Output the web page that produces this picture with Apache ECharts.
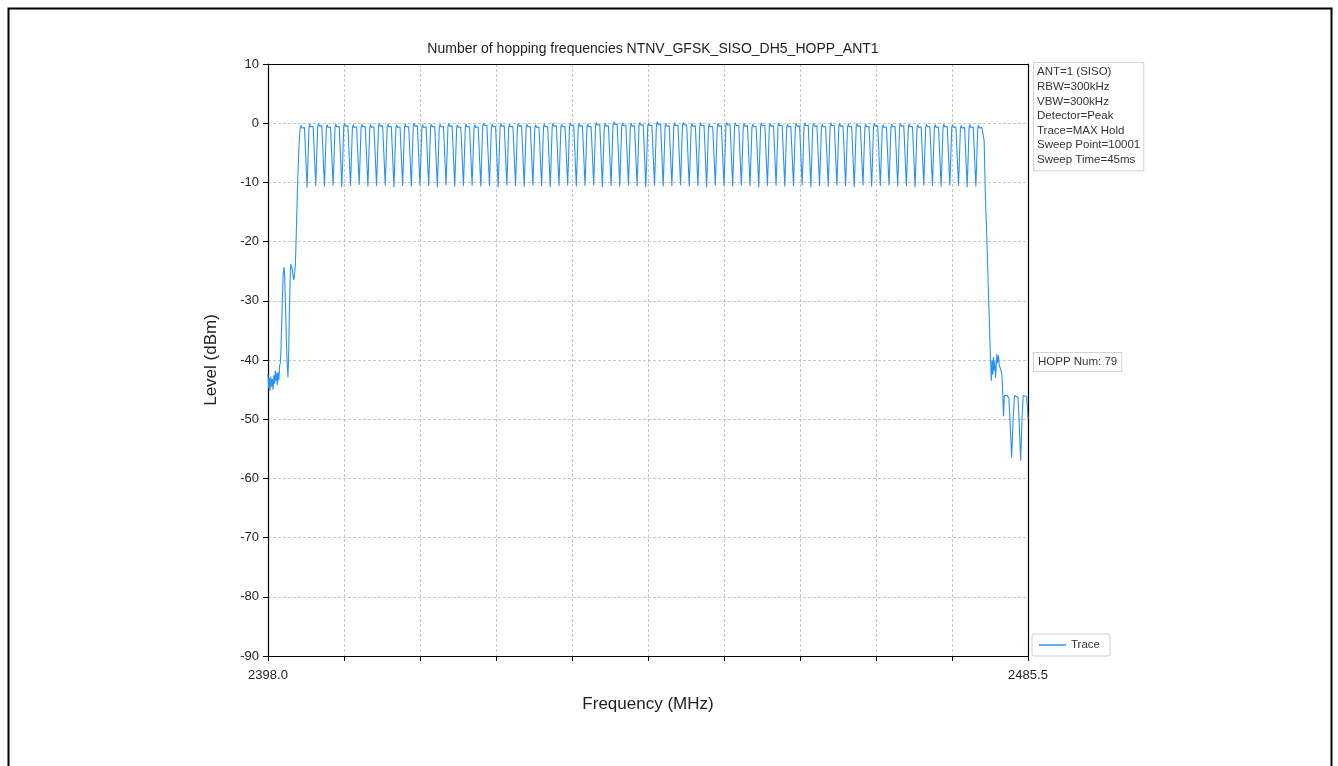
<!DOCTYPE html>
<html>
<head>
<meta charset="utf-8">
<script src="https://cdn.jsdelivr.net/npm/echarts@6/dist/echarts.min.js"></script>
<style>
html,body{margin:0;padding:0;background:#fff;}
#chart{width:1338px;height:766px;}
</style>
</head>
<body>
<div id="chart"></div>
<script>
// ---- data ----
const xStart = 2398.0;
const xEnd = 2485.5;
const xTickLabels = ['2398.0','','','','','','','','','','2485.5'];
const yTicks = [10,0,-10,-20,-30,-40,-50,-60,-70,-80,-90];

const channels = [
  2402,2403,2404,2405,2406,2407,2408,2409,2410,2411,
  2412,2413,2414,2415,2416,2417,2418,2419,2420,2421,
  2422,2423,2424,2425,2426,2427,2428,2429,2430,2431,
  2432,2433,2434,2435,2436,2437,2438,2439,2440,2441,
  2442,2443,2444,2445,2446,2447,2448,2449,2450,2451,
  2452,2453,2454,2455,2456,2457,2458,2459,2460,2461,
  2462,2463,2464,2465,2466,2467,2468,2469,2470,2471,
  2472,2473,2474,2475,2476,2477,2478,2479,2480
];
const peakLevels = [
  -0.3,-0.1,0.0,-0.2,-0.1,0.0,-0.2,-0.1,-0.2,0.0,
  -0.1,-0.2,-0.1,0.0,-0.2,-0.1,-0.1,0.0,-0.2,-0.1,
  -0.2,0.1,-0.1,0.0,-0.1,0.0,-0.1,-0.2,-0.1,0.0,
  -0.1,0.1,0.0,-0.1,0.2,0.0,0.3,0.1,0.0,0.2,
  0.1,0.3,0.0,0.1,0.2,0.0,0.1,-0.1,0.0,0.2,
  0.1,0.0,-0.1,0.1,0.0,0.1,-0.1,0.0,0.1,0.0,
  -0.1,0.1,0.0,-0.1,0.0,-0.1,0.0,-0.2,-0.1,0.0,
  -0.1,-0.2,-0.1,-0.2,-0.1,-0.2,-0.3,-0.2,-0.3
];
const dipLevels = [
  -10.9,-10.6,-10.7,-10.5,-10.8,-10.6,-10.4,-10.7,-10.6,-10.5,
  -10.8,-10.6,-10.7,-10.5,-10.6,-10.8,-10.5,-10.7,-10.6,-10.5,
  -10.7,-10.6,-10.8,-10.5,-10.6,-10.7,-10.5,-10.6,-10.8,-10.6,
  -10.5,-10.7,-10.6,-10.5,-10.8,-10.6,-10.7,-10.5,-10.6,-10.8,
  -10.5,-10.7,-10.6,-10.5,-10.7,-10.6,-10.8,-10.5,-10.6,-10.7,
  -10.5,-10.6,-10.8,-10.6,-10.5,-10.7,-10.6,-10.5,-10.8,-10.6,
  -10.7,-10.5,-10.6,-10.8,-10.5,-10.7,-10.6,-10.5,-10.7,-10.6,
  -10.8,-10.5,-10.6,-10.7,-10.5,-10.6,-10.8,-10.7
];
const leftEdge = [
  [2398.00,-42.5],[2398.08,-44.8],[2398.16,-43.0],[2398.24,-45.2],[2398.33,-42.8],
  [2398.42,-44.5],[2398.50,-43.2],[2398.58,-45.0],[2398.67,-42.6],[2398.75,-44.0],
  [2398.84,-41.8],[2398.92,-43.6],[2399.00,-42.2],[2399.08,-44.2],[2399.17,-42.0],
  [2399.25,-43.4],[2399.33,-41.0],[2399.42,-40.5],[2399.50,-38.0],[2399.58,-33.5],
  [2399.67,-29.0],[2399.75,-25.5],[2399.84,-24.3],[2399.92,-25.8],[2400.00,-30.0],
  [2400.10,-35.5],[2400.20,-40.5],[2400.30,-42.9],[2400.38,-39.0],[2400.46,-32.0],
  [2400.55,-26.5],[2400.62,-23.8],[2400.70,-23.5],[2400.78,-24.5],[2400.88,-25.8],
  [2400.98,-26.5],[2401.07,-26.8],[2401.15,-24.0],[2401.25,-19.0],[2401.35,-13.5],
  [2401.45,-8.5],[2401.55,-4.5],[2401.65,-1.8]
];
const rightEdge = [
  [2480.45,-3.0],[2480.58,-11.5],[2480.64,-14.7],[2480.70,-16.5],[2481.12,-37.0],
  [2481.20,-40.5],[2481.28,-43.5],[2481.36,-40.0],[2481.44,-42.5],[2481.52,-39.5],
  [2481.60,-41.8],[2481.68,-40.2],[2481.76,-43.0],[2481.84,-41.0],[2481.92,-39.0],
  [2482.00,-40.5],[2482.10,-39.2],[2482.20,-41.0],[2482.35,-41.5],[2482.50,-42.5],
  [2482.60,-46.0],[2482.68,-49.5],[2482.78,-46.0],[2482.90,-45.8],[2483.10,-46.0],
  [2483.30,-46.5],[2483.45,-51.0],[2483.62,-56.5],[2483.78,-50.0],[2483.95,-46.0],
  [2484.15,-45.8],[2484.35,-46.3],[2484.50,-51.0],[2484.65,-57.0],[2484.80,-50.5],
  [2484.95,-46.0],[2485.15,-45.8],[2485.35,-46.2],[2485.50,-50.0]
];
const infoLines = ['ANT=1 (SISO)','RBW=300kHz','VBW=300kHz','Detector=Peak','Trace=MAX Hold','Sweep Point=10001','Sweep Time=45ms'];
const hoppText = 'HOPP Num: 79';

// ---- build trace ----
const trace = [];
leftEdge.forEach(p => trace.push([p[0] - xStart, p[1]]));
channels.forEach((f, i) => {
  const p = peakLevels[i];
  trace.push([f - 0.28 - xStart, p - 0.55]);
  trace.push([f - 0.18 - xStart, p - 0.05]);
  trace.push([f - 0.10 - xStart, p - 0.5]);
  trace.push([f + 0.05 - xStart, p - 0.4]);
  trace.push([f + 0.20 - xStart, p - 0.45]);
  trace.push([f + 0.28 - xStart, p - 0.6]);
  if (i < dipLevels.length) trace.push([f + 0.5 - xStart, dipLevels[i]]);
});
rightEdge.forEach(p => trace.push([p[0] - xStart, p[1]]));

const FONT = '"Liberation Sans", Arial, sans-serif';
const spineOnly = {
  axisLine: {show: true, onZero: false, lineStyle: {color: '#000', width: 1.2}},
  axisTick: {show: false}, axisLabel: {show: false}, splitLine: {show: false}
};
const chart = echarts.init(document.getElementById('chart'));
chart.setOption({
  animation: false,
  backgroundColor: '#fff',
  title: {
    text: 'Number of hopping frequencies NTNV_GFSK_SISO_DH5_HOPP_ANT1',
    left: 648, top: 37, textAlign: 'center',
    textStyle: {fontFamily: FONT, fontSize: 14, fontWeight: 'normal', color: '#222'}
  },
  grid: {left: 268, top: 64, width: 760, height: 592},
  legend: {
    data: ['Trace'], left: 1032, top: 634,
    borderColor: '#d0d0d0', borderWidth: 1, borderRadius: 2, padding: [5, 10, 5, 7],
    icon: 'rect', itemWidth: 27, itemHeight: 1.5, itemGap: 8,
    textStyle: {fontFamily: FONT, fontSize: 11.5, color: '#333'}
  },
  xAxis: [{
    type: 'value', min: 0, max: xEnd - xStart, interval: 8.75,
    name: 'Frequency (MHz)', nameLocation: 'middle', nameGap: 40,
    nameTextStyle: {fontFamily: FONT, fontSize: 17, color: '#222'},
    axisLine: {onZero: false, lineStyle: {color: '#000', width: 1.2}},
    axisTick: {show: true, length: 5, lineStyle: {color: '#000'}},
    axisLabel: {
      margin: 13, fontFamily: FONT, fontSize: 13, color: '#222',
      showMinLabel: true, showMaxLabel: true,
      formatter: (v) => xTickLabels[Math.round(v / 8.75)] || ''
    },
    splitLine: {show: true, lineStyle: {color: '#b8b8b8', type: [3, 2], width: 0.8}}
  }, Object.assign({type: 'value', position: 'top', min: 0, max: xEnd - xStart}, spineOnly)],
  yAxis: [{
    type: 'value', min: -90, max: 10, interval: 10,
    name: 'Level (dBm)', nameLocation: 'middle', nameGap: 48, nameRotate: 90,
    nameTextStyle: {fontFamily: FONT, fontSize: 17, color: '#222'},
    axisLine: {show: true, onZero: false, lineStyle: {color: '#000', width: 1.2}},
    axisTick: {show: true, length: 5, lineStyle: {color: '#000'}},
    axisLabel: {margin: 9, fontFamily: FONT, fontSize: 13, color: '#222',
      formatter: v => yTicks.includes(v) ? String(v) : ''},
    splitLine: {show: true, lineStyle: {color: '#b8b8b8', type: [3, 2], width: 0.8}}
  }, Object.assign({type: 'value', position: 'right', min: -90, max: 10}, spineOnly)],
  series: [{
    name: 'Trace', type: 'line', data: trace, showSymbol: false, symbol: 'none',
    xAxisIndex: 0, yAxisIndex: 0,
    lineStyle: {color: '#2a92f5', width: 1.1}, itemStyle: {color: '#2a92f5'},
    clip: true
  }],
  graphic: [
    {type: 'rect', left: 6, top: 6, shape: {width: 1323, height: 800},
     style: {fill: 'none', stroke: '#000', lineWidth: 2}, silent: true},
    {type: 'text', left: 1033, top: 62,
     style: {text: infoLines.join('\n'), font: '11.5px ' + FONT, fill: '#333', lineHeight: 14.6,
       backgroundColor: '#fff', borderColor: '#d4d4d4', borderWidth: 1, padding: [2, 3, 3, 3]}},
    {type: 'text', left: 1033, top: 352,
     style: {text: hoppText, font: '11.5px ' + FONT, fill: '#333',
       backgroundColor: '#fff', borderColor: '#d4d4d4', borderWidth: 1, padding: [3, 4, 3, 4]}}
  ]
});
</script>
</body>
</html>
